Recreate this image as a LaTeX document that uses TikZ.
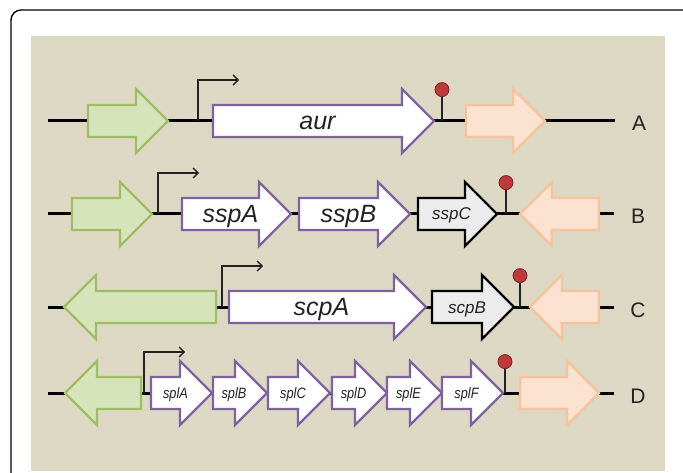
\documentclass[tikz,border=0pt]{standalone}
\usepackage{fontspec}
\setmainfont{Liberation Sans}
\usepackage{graphicx}
\usetikzlibrary{arrows.meta}

\definecolor{panelbg}{HTML}{DDD8C4}
\definecolor{greenfill}{HTML}{D6E4BB}
\definecolor{greenline}{HTML}{9DBE62}
\definecolor{orangefill}{HTML}{FCE3D1}
\definecolor{orangeline}{HTML}{F7C299}
\definecolor{purpleline}{HTML}{7E62A0}
\definecolor{grayfill}{HTML}{ECECEC}
\definecolor{ballred}{HTML}{C0393A}
\definecolor{inkdark}{HTML}{222222}

\tikzset{
  backbone/.style={line width=3pt, draw=black},
  genebox/.style={line width=2.3pt, line join=miter},
  flankgreen/.style={genebox, draw=greenline, fill=greenfill},
  flankorange/.style={genebox, draw=orangeline, fill=orangefill},
  geneopen/.style={genebox, draw=purpleline, fill=white},
  genegray/.style={genebox, draw=black, fill=grayfill},
  prom/.style={line width=1.3pt, draw=inkdark, -{Straight Barb[length=5pt,width=10pt,line width=1.3pt]}},
  termstem/.style={line width=1.5pt, draw=inkdark},
  termball/.style={circle, minimum size=14pt, inner sep=0pt, fill=ballred, draw=ballred!60!black, line width=0.8pt},
  biglabel/.style={font=\fontsize{25}{28}\selectfont\itshape, text=inkdark, inner sep=0pt, anchor=base},
  midlabel/.style={font=\fontsize{17}{20}\selectfont\itshape, text=inkdark, inner sep=0pt, anchor=base},
  smalllabel/.style={font=\fontsize{15}{18}\selectfont\itshape, text=inkdark, inner sep=0pt, anchor=base},
  rowlabel/.style={font=\fontsize{21}{24}\selectfont, text=inkdark, inner sep=0pt, anchor=base},
}

% right-pointing gene: style, name, tail x, tip x, row y
\newcommand{\generight}[5]{%
  \draw[#1] (#3,#5-16) -- ({#4-32},#5-16) -- ({#4-32},#5-32) -- (#4,#5)
    -- ({#4-32},#5+32) -- ({#4-32},#5+16) -- (#3,#5+16) -- cycle;
  \coordinate (#2) at ({(#3+#4)/2-6},#5);
}
% left-pointing gene: style, name, tip x, tail x, row y
\newcommand{\geneleft}[5]{%
  \draw[#1] (#4,#5-16) -- ({#3+32},#5-16) -- ({#3+32},#5-32) -- (#3,#5)
    -- ({#3+32},#5+32) -- ({#3+32},#5+16) -- (#4,#5+16) -- cycle;
  \coordinate (#2) at ({(#3+#4)/2+6},#5);
}
% promoter bent arrow: name, x, row y
\newcommand{\promoter}[3]{%
  \coordinate (#1) at (#2,#3);
  \draw[prom] (#1) -- ++(0,-41) -- ++(41,0);
}
% terminator lollipop: name, x, row y
\newcommand{\terminator}[3]{%
  \coordinate (#1) at (#2,#3);
  \draw[termstem] (#1) -- ++(0,-24) node[termball, anchor=south] (#1-ball) {};
}

\begin{document}
\begin{tikzpicture}[x=1pt,y=-1pt]
\useasboundingbox (0,0) rectangle (683,473);
\clip (0,0) rectangle (683,473);
\fill[white] (0,0) rectangle (683,473);
\draw[line width=1.4pt, rounded corners=10pt] (11,10) rectangle (700,500);
\fill[panelbg] (31,36) rectangle (665,471);

% ---- row A ----
\coordinate (A-start) at (48,121);
\coordinate (A-end) at (615,121);
\draw[backbone] (A-start) -- (A-end);
\generight{flankgreen}{A-g1}{88}{168}{121}
\generight{geneopen}{A-aur}{213}{434}{121}
\generight{flankorange}{A-g3}{466}{545}{121}
\promoter{A-p}{198}{121}
\terminator{A-t}{442}{121}
\node[biglabel] (aur) at ([yshift=-9pt]A-aur) {aur};
\path (A-end) ++(24,10) node[rowlabel] (labA) {A};

% ---- row B ----
\coordinate (B-start) at (48,214);
\coordinate (B-end) at (614,214);
\draw[backbone] (B-start) -- (B-end);
\generight{flankgreen}{B-g1}{72}{152}{214}
\generight{geneopen}{B-sspA}{182}{291}{214}
\generight{geneopen}{B-sspB}{299}{410}{214}
\generight{genegray}{B-sspC}{418}{497}{214}
\geneleft{flankorange}{B-g5}{520}{599}{214}
\promoter{B-p}{158}{214}
\terminator{B-t}{506}{214}
\node[biglabel] (sspA) at ([yshift=-9pt]B-sspA) {sspA};
\node[biglabel] (sspB) at ([yshift=-9pt]B-sspB) {sspB};
\node[midlabel] (sspC) at ([yshift=-6pt]B-sspC) {sspC};
\path (B-end) ++(24,10) node[rowlabel] (labB) {B};

% ---- row C ----
\coordinate (C-start) at (48,307);
\coordinate (C-end) at (614,307);
\draw[backbone] (C-start) -- (C-end);
\geneleft{flankgreen}{C-g1}{64}{216}{307}
\generight{geneopen}{C-scpA}{229}{426}{307}
\generight{genegray}{C-scpB}{432}{514}{307}
\geneleft{flankorange}{C-g4}{530}{599}{307}
\promoter{C-p}{222}{307}
\terminator{C-t}{520}{307}
\node[biglabel] (scpA) at ([yshift=-9pt]C-scpA) {scpA};
\node[midlabel] (scpB) at ([yshift=-6pt]C-scpB) {scpB};
\path (C-end) ++(24,10) node[rowlabel] (labC) {C};

% ---- row D ----
\coordinate (D-start) at (48,393);
\coordinate (D-end) at (614,393);
\draw[backbone] (D-start) -- (D-end);
\geneleft{flankgreen}{D-g1}{65}{141}{393}
\generight{geneopen}{D-splA}{151}{212}{393}
\generight{geneopen}{D-splB}{213}{267}{393}
\generight{geneopen}{D-splC}{268}{330}{393}
\generight{geneopen}{D-splD}{332}{387}{393}
\generight{geneopen}{D-splE}{387}{442}{393}
\generight{geneopen}{D-splF}{442}{503}{393}
\generight{flankorange}{D-g8}{520}{599}{393}
\promoter{D-p}{144}{393}
\terminator{D-t}{505}{393}
\node[smalllabel] (splA) at ([yshift=-5pt]D-splA) {\scalebox{0.85}[1]{splA}};
\node[smalllabel] (splB) at ([yshift=-5pt]D-splB) {\scalebox{0.85}[1]{splB}};
\node[smalllabel] (splC) at ([yshift=-5pt]D-splC) {\scalebox{0.85}[1]{splC}};
\node[smalllabel] (splD) at ([yshift=-5pt]D-splD) {\scalebox{0.85}[1]{splD}};
\node[smalllabel] (splE) at ([yshift=-5pt]D-splE) {\scalebox{0.85}[1]{splE}};
\node[smalllabel] (splF) at ([yshift=-5pt]D-splF) {\scalebox{0.85}[1]{splF}};
\path (D-end) ++(24,10) node[rowlabel] (labD) {D};
\end{tikzpicture}
\end{document}
